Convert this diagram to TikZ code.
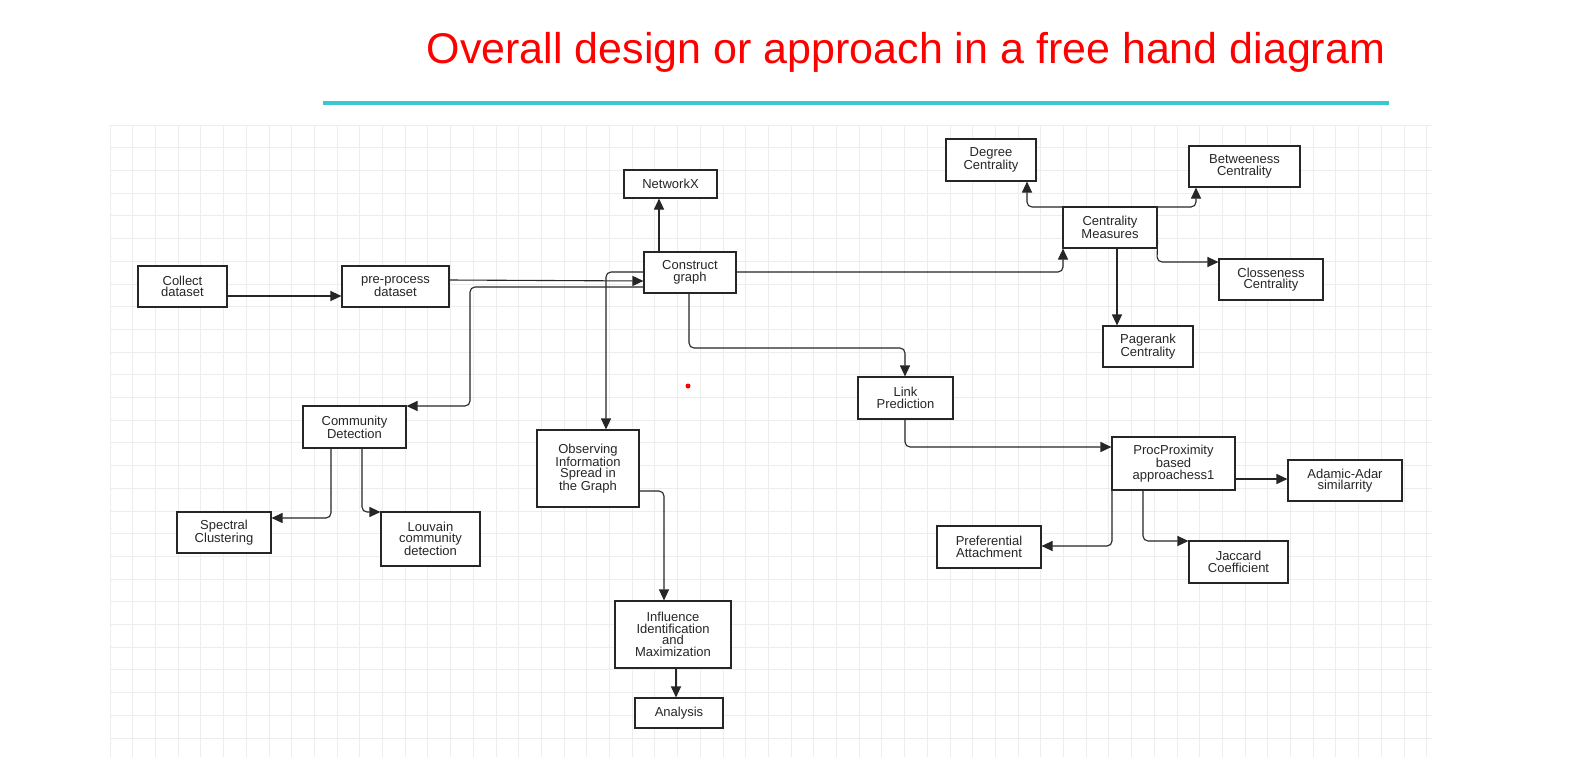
\documentclass[tikz,border=0pt]{standalone}
\usepackage{fontspec}
\setmainfont{Liberation Sans}
\usetikzlibrary{arrows.meta}
\begin{document}
\begin{tikzpicture}[x=1pt,y=-1pt,
  box/.style={draw=black!85,line width=1.1pt,fill=white,align=center,inner sep=0pt,font=\fontsize{13}{11.5}\selectfont,text=black!85},
  conn/.style={line width=1.1pt,draw=black!85,rounded corners=5pt,-{Triangle[length=11pt,width=10pt]}}]
\useasboundingbox (0,0) rectangle (1588,769);
\fill[white] (0,0) rectangle (1588,769);
% grid
\foreach \i in {0,...,58} {\draw[black!7,line width=0.8pt] (110+\i*22.7,125) -- (110+\i*22.7,757);}
\foreach \j in {0,...,27} {\draw[black!7,line width=0.8pt] (110,125+\j*22.7) -- (1432,125+\j*22.7);}
% title
\node[text=red,font=\fontsize{43}{45}\selectfont] (title) at (906,52) {Overall design or approach in a free hand diagram};
\draw[color={rgb,255:red,56;green,200;blue,210},line width=4pt] (323,103) -- (1389,103);
\fill[red] (688,386) circle (2.5);
% nodes
\node[box,minimum width=89,minimum height=41] (collect) at (182.5,286.5) {Collect\\dataset};
\node[box,minimum width=107,minimum height=41] (pre) at (395.5,286.5) {pre-process\\dataset};
\node[box,minimum width=93,minimum height=28] (nx) at (670.5,184) {NetworkX};
\node[box,minimum width=92,minimum height=41] (cg) at (690,272.5) {Construct\\graph};
\node[box,minimum width=90,minimum height=42] (deg) at (991,160) {Degree\\Centrality};
\node[box,minimum width=111,minimum height=41] (bet) at (1244.5,166.5) {Betweeness\\Centrality};
\node[box,minimum width=94,minimum height=41] (cm) at (1110,227.5) {Centrality\\Measures};
\node[box,minimum width=104,minimum height=41] (clo) at (1271,279.5) {Closseness\\Centrality};
\node[box,minimum width=90,minimum height=41] (pr) at (1148,346.5) {Pagerank\\Centrality};
\node[box,minimum width=95,minimum height=42] (lp) at (905.5,398) {Link\\Prediction};
\node[box,minimum width=103,minimum height=42] (cd) at (354.5,427) {Community\\Detection};
\node[box,minimum width=102,minimum height=77] (obs) at (588,468.5) {Observing\\Information\\Spread in\\the Graph};
\node[box,minimum width=123,minimum height=53] (proc) at (1173.5,463.5) {ProcProximity\\based\\approachess1};
\node[box,minimum width=114,minimum height=41] (ad) at (1345,480.5) {Adamic-Adar\\similarrity};
\node[box,minimum width=94,minimum height=41] (sc) at (224,532.5) {Spectral\\Clustering};
\node[box,minimum width=99,minimum height=54] (lv) at (430.5,539) {Louvain\\community\\detection};
\node[box,minimum width=104,minimum height=42] (pa) at (989,547) {Preferential\\Attachment};
\node[box,minimum width=99,minimum height=42] (jc) at (1238.5,562) {Jaccard\\Coefficient};
\node[box,minimum width=116,minimum height=67] (inf) at (673,634.5) {Influence\\Identification\\and\\Maximization};
\node[box,minimum width=88,minimum height=30] (an) at (679,713) {Analysis};
% connectors
\draw[conn] (collect.east |- 0,296) -- (pre.west |- 0,296);
\draw[conn] (pre.east |- 0,280) -- (cg.west |- 0,281);
\draw[conn] (cg.west |- 0,287) -- (470,287) -- (470,406) -- (cd.east |- 0,406);
\draw[conn] (cg.west |- 0,272) -- (606,272) -- (obs.north -| 606,0);
\draw[conn] (cg.north -| 659,0) -- (nx.south -| 659,0);
\draw[conn] (cg.east |- 0,272) -- (1063,272) -- (cm.south -| 1063,0);
\draw[conn] (cg.south -| 689,0) -- (689,348) -- (905,348) -- (lp.north -| 905,0);
\draw[conn] (1063,207) -- (1027,207) -- (deg.south -| 1027,0);
\draw[conn] (1157,207) -- (1196,207) -- (bet.south -| 1196,0);
\draw[conn] (cm.east |- 0,240) -- (1157,262) -- (clo.west |- 0,262);
\draw[conn] (cm.south -| 1117,0) -- (pr.north -| 1117,0);
\draw[conn] (lp.south -| 905,0) -- (905,447) -- (proc.west |- 0,447);
\draw[conn] (proc.east |- 0,479) -- (ad.west |- 0,479);
\draw[conn] (proc.south -| 1112,0) -- (1112,546) -- (pa.east |- 0,546);
\draw[conn] (proc.south -| 1143,0) -- (1143,541) -- (jc.west |- 0,541);
\draw[conn] (cd.south -| 331,0) -- (331,518) -- (sc.east |- 0,518);
\draw[conn] (cd.south -| 362,0) -- (362,512) -- (lv.west |- 0,512);
\draw[conn] (obs.east |- 0,491) -- (664,491) -- (inf.north -| 664,0);
\draw[conn] (inf.south -| 676,0) -- (an.north -| 676,0);
\end{tikzpicture}
\end{document}
